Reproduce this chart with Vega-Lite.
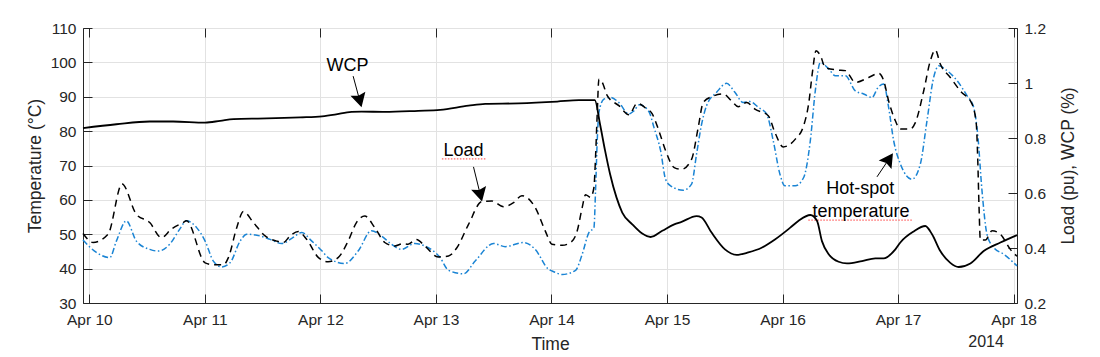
{
  "$schema": "https://vega.github.io/schema/vega-lite/v6.json",
  "width": 934,
  "height": 275,
  "autosize": {"type": "none"},
  "padding": {"left": 83, "top": 28, "right": 83, "bottom": 54},
  "background": "white",
  "config": {
    "font": "Liberation Sans",
    "view": {"stroke": "#262626", "strokeWidth": 1},
    "axis": {
      "domainColor": "#262626",
      "tickColor": "#262626",
      "labelColor": "#262626",
      "titleColor": "#262626",
      "titleFontWeight": "normal",
      "labelFontSize": 15.5,
      "titleFontSize": 17.5,
      "gridColor": "#e2e2e2",
      "gridWidth": 1,
      "tickSize": -9,
      "labelFlush": false,
      "labelOverlap": false,
      "labelBound": false
    }
  },
  "datasets": {
    "hotspot": [
      {"time": "2014-04-09T22:41", "temperature": 48.3},
      {"time": "2014-04-10T01:28", "temperature": 44.7},
      {"time": "2014-04-10T04:14", "temperature": 43.2},
      {"time": "2014-04-10T05:37", "temperature": 48},
      {"time": "2014-04-10T07:42", "temperature": 53.9},
      {"time": "2014-04-10T09:46", "temperature": 48},
      {"time": "2014-04-10T12:33", "temperature": 45.6},
      {"time": "2014-04-10T14:17", "temperature": 45.1},
      {"time": "2014-04-10T16:42", "temperature": 47.1},
      {"time": "2014-04-10T18:47", "temperature": 51.5},
      {"time": "2014-04-10T20:10", "temperature": 53.9},
      {"time": "2014-04-10T22:15", "temperature": 52},
      {"time": "2014-04-11T00:03", "temperature": 48},
      {"time": "2014-04-11T01:46", "temperature": 42.2},
      {"time": "2014-04-11T03:30", "temperature": 40.5},
      {"time": "2014-04-11T05:14", "temperature": 41.7},
      {"time": "2014-04-11T07:19", "temperature": 48},
      {"time": "2014-04-11T08:42", "temperature": 50},
      {"time": "2014-04-11T11:28", "temperature": 49.5},
      {"time": "2014-04-11T13:33", "temperature": 48.5},
      {"time": "2014-04-11T15:58", "temperature": 47.3},
      {"time": "2014-04-11T18:03", "temperature": 48.8},
      {"time": "2014-04-11T20:08", "temperature": 50.5},
      {"time": "2014-04-11T22:13", "temperature": 48},
      {"time": "2014-04-12T00:21", "temperature": 45.1},
      {"time": "2014-04-12T01:36", "temperature": 43.2},
      {"time": "2014-04-12T05:04", "temperature": 41.5},
      {"time": "2014-04-12T07:50", "temperature": 45.1},
      {"time": "2014-04-12T10:36", "temperature": 51},
      {"time": "2014-04-12T12:41", "temperature": 49.5},
      {"time": "2014-04-12T14:46", "temperature": 47.1},
      {"time": "2014-04-12T16:50", "temperature": 45.6},
      {"time": "2014-04-12T19:37", "temperature": 47.3},
      {"time": "2014-04-12T21:41", "temperature": 46.6},
      {"time": "2014-04-13T00:52", "temperature": 43.2},
      {"time": "2014-04-13T02:37", "temperature": 39.5},
      {"time": "2014-04-13T05:44", "temperature": 38.5},
      {"time": "2014-04-13T08:09", "temperature": 42.2},
      {"time": "2014-04-13T11:58", "temperature": 47.3},
      {"time": "2014-04-13T14:23", "temperature": 46.4},
      {"time": "2014-04-13T18:12", "temperature": 47.6},
      {"time": "2014-04-13T20:37", "temperature": 45.6},
      {"time": "2014-04-13T23:23", "temperature": 39.8},
      {"time": "2014-04-14T00:09", "temperature": 39.3},
      {"time": "2014-04-14T02:14", "temperature": 38.3},
      {"time": "2014-04-14T05:00", "temperature": 39.5},
      {"time": "2014-04-14T06:23", "temperature": 44.2},
      {"time": "2014-04-14T07:46", "temperature": 50.5},
      {"time": "2014-04-14T08:49", "temperature": 51.9},
      {"time": "2014-04-14T09:09", "temperature": 62.6},
      {"time": "2014-04-14T09:30", "temperature": 77.2},
      {"time": "2014-04-14T09:51", "temperature": 85.4},
      {"time": "2014-04-14T10:53", "temperature": 89.3},
      {"time": "2014-04-14T12:16", "temperature": 89.8},
      {"time": "2014-04-14T14:00", "temperature": 88.3},
      {"time": "2014-04-14T16:05", "temperature": 85},
      {"time": "2014-04-14T17:07", "temperature": 85.9},
      {"time": "2014-04-14T18:18", "temperature": 87.7},
      {"time": "2014-04-14T20:14", "temperature": 85.7},
      {"time": "2014-04-14T21:17", "temperature": 81.1},
      {"time": "2014-04-14T22:40", "temperature": 74.3},
      {"time": "2014-04-14T23:42", "temperature": 66},
      {"time": "2014-04-15T00:44", "temperature": 64.1},
      {"time": "2014-04-15T03:22", "temperature": 62.8},
      {"time": "2014-04-15T05:06", "temperature": 64.6},
      {"time": "2014-04-15T06:08", "temperature": 73.3},
      {"time": "2014-04-15T07:11", "temperature": 82},
      {"time": "2014-04-15T08:13", "temperature": 87.4},
      {"time": "2014-04-15T10:18", "temperature": 91.3},
      {"time": "2014-04-15T12:22", "temperature": 93.9},
      {"time": "2014-04-15T14:06", "temperature": 91.3},
      {"time": "2014-04-15T15:50", "temperature": 88.3},
      {"time": "2014-04-15T17:13", "temperature": 88.6},
      {"time": "2014-04-15T19:00", "temperature": 86.9},
      {"time": "2014-04-15T20:41", "temperature": 85},
      {"time": "2014-04-15T22:04", "temperature": 77.2},
      {"time": "2014-04-15T23:27", "temperature": 67.5},
      {"time": "2014-04-16T00:29", "temperature": 64.1},
      {"time": "2014-04-16T02:39", "temperature": 64.1},
      {"time": "2014-04-16T04:23", "temperature": 66.5},
      {"time": "2014-04-16T05:46", "temperature": 77.2},
      {"time": "2014-04-16T06:48", "temperature": 91.7},
      {"time": "2014-04-16T07:51", "temperature": 100},
      {"time": "2014-04-16T09:35", "temperature": 98.1},
      {"time": "2014-04-16T10:58", "temperature": 96.1},
      {"time": "2014-04-16T13:02", "temperature": 96.1},
      {"time": "2014-04-16T15:07", "temperature": 91.7},
      {"time": "2014-04-16T16:51", "temperature": 90.8},
      {"time": "2014-04-16T18:35", "temperature": 89.8},
      {"time": "2014-04-16T19:50", "temperature": 92.7},
      {"time": "2014-04-16T21:00", "temperature": 93.7},
      {"time": "2014-04-16T22:02", "temperature": 86.9},
      {"time": "2014-04-16T23:05", "temperature": 77.2},
      {"time": "2014-04-17T00:28", "temperature": 70.5},
      {"time": "2014-04-17T02:53", "temperature": 66},
      {"time": "2014-04-17T04:37", "temperature": 70.4},
      {"time": "2014-04-17T06:00", "temperature": 83},
      {"time": "2014-04-17T07:23", "temperature": 95.6},
      {"time": "2014-04-17T08:26", "temperature": 99},
      {"time": "2014-04-17T10:10", "temperature": 97.6},
      {"time": "2014-04-17T12:14", "temperature": 94.7},
      {"time": "2014-04-17T14:19", "temperature": 90.3},
      {"time": "2014-04-17T15:42", "temperature": 86.9},
      {"time": "2014-04-17T16:32", "temperature": 79.1},
      {"time": "2014-04-17T17:26", "temperature": 62.6},
      {"time": "2014-04-17T18:28", "temperature": 50},
      {"time": "2014-04-17T19:52", "temperature": 46.1},
      {"time": "2014-04-17T21:56", "temperature": 44.2},
      {"time": "2014-04-18T00:42", "temperature": 40.8}
    ],
    "load": [
      {"time": "2014-04-09T22:41", "load": 0.4525},
      {"time": "2014-04-10T00:46", "load": 0.42},
      {"time": "2014-04-10T03:53", "load": 0.45},
      {"time": "2014-04-10T06:48", "load": 0.6325},
      {"time": "2014-04-10T09:46", "load": 0.5225},
      {"time": "2014-04-10T12:33", "load": 0.4925},
      {"time": "2014-04-10T14:58", "load": 0.4375},
      {"time": "2014-04-10T17:03", "load": 0.469},
      {"time": "2014-04-10T19:28", "load": 0.4925},
      {"time": "2014-04-10T20:10", "load": 0.499},
      {"time": "2014-04-11T00:03", "load": 0.346},
      {"time": "2014-04-11T01:46", "load": 0.339},
      {"time": "2014-04-11T03:51", "load": 0.339},
      {"time": "2014-04-11T04:53", "load": 0.365},
      {"time": "2014-04-11T06:37", "load": 0.474},
      {"time": "2014-04-11T08:00", "load": 0.5325},
      {"time": "2014-04-11T10:05", "load": 0.4925},
      {"time": "2014-04-11T12:31", "load": 0.444},
      {"time": "2014-04-11T14:56", "load": 0.425},
      {"time": "2014-04-11T16:19", "load": 0.42},
      {"time": "2014-04-11T17:42", "load": 0.444},
      {"time": "2014-04-11T19:26", "load": 0.46},
      {"time": "2014-04-11T21:10", "load": 0.431},
      {"time": "2014-04-11T23:36", "load": 0.365},
      {"time": "2014-04-12T01:36", "load": 0.35},
      {"time": "2014-04-12T03:41", "load": 0.365},
      {"time": "2014-04-12T05:45", "load": 0.425},
      {"time": "2014-04-12T07:29", "load": 0.4925},
      {"time": "2014-04-12T09:13", "load": 0.516},
      {"time": "2014-04-12T11:18", "load": 0.474},
      {"time": "2014-04-12T13:22", "load": 0.42},
      {"time": "2014-04-12T15:27", "load": 0.4075},
      {"time": "2014-04-12T17:11", "load": 0.416},
      {"time": "2014-04-12T18:13", "load": 0.414},
      {"time": "2014-04-12T19:57", "load": 0.431},
      {"time": "2014-04-12T21:41", "load": 0.4075},
      {"time": "2014-04-13T00:27", "load": 0.3675},
      {"time": "2014-04-13T02:37", "load": 0.371},
      {"time": "2014-04-13T04:21", "load": 0.401},
      {"time": "2014-04-13T06:46", "load": 0.486},
      {"time": "2014-04-13T09:32", "load": 0.569},
      {"time": "2014-04-13T11:37", "load": 0.571},
      {"time": "2014-04-13T14:02", "load": 0.55},
      {"time": "2014-04-13T16:07", "load": 0.565},
      {"time": "2014-04-13T17:51", "load": 0.59},
      {"time": "2014-04-13T20:37", "load": 0.5475},
      {"time": "2014-04-13T22:42", "load": 0.4625},
      {"time": "2014-04-14T00:05", "load": 0.414},
      {"time": "2014-04-14T02:14", "load": 0.41},
      {"time": "2014-04-14T03:58", "load": 0.42},
      {"time": "2014-04-14T05:21", "load": 0.4625},
      {"time": "2014-04-14T06:23", "load": 0.5475},
      {"time": "2014-04-14T07:05", "load": 0.594},
      {"time": "2014-04-14T08:07", "load": 0.584},
      {"time": "2014-04-14T08:49", "load": 0.62},
      {"time": "2014-04-14T09:09", "load": 0.729},
      {"time": "2014-04-14T09:30", "load": 0.8875},
      {"time": "2014-04-14T09:51", "load": 1.014},
      {"time": "2014-04-14T10:32", "load": 1.0025},
      {"time": "2014-04-14T11:35", "load": 0.954},
      {"time": "2014-04-14T14:00", "load": 0.9175},
      {"time": "2014-04-14T16:05", "load": 0.885},
      {"time": "2014-04-14T17:49", "load": 0.926},
      {"time": "2014-04-14T19:33", "load": 0.909},
      {"time": "2014-04-14T20:56", "load": 0.8875},
      {"time": "2014-04-14T22:19", "load": 0.826},
      {"time": "2014-04-14T23:42", "load": 0.754},
      {"time": "2014-04-15T01:30", "load": 0.6925},
      {"time": "2014-04-15T03:01", "load": 0.686},
      {"time": "2014-04-15T05:06", "load": 0.7225},
      {"time": "2014-04-15T06:29", "load": 0.839},
      {"time": "2014-04-15T07:31", "load": 0.929},
      {"time": "2014-04-15T09:15", "load": 0.95},
      {"time": "2014-04-15T11:41", "load": 0.96},
      {"time": "2014-04-15T13:25", "load": 0.935},
      {"time": "2014-04-15T14:48", "load": 0.914},
      {"time": "2014-04-15T16:32", "load": 0.929},
      {"time": "2014-04-15T18:16", "load": 0.905},
      {"time": "2014-04-15T21:02", "load": 0.881},
      {"time": "2014-04-15T22:25", "load": 0.82},
      {"time": "2014-04-16T00:09", "load": 0.7675},
      {"time": "2014-04-16T01:36", "load": 0.7775},
      {"time": "2014-04-16T02:39", "load": 0.796},
      {"time": "2014-04-16T04:23", "load": 0.845},
      {"time": "2014-04-16T05:25", "load": 0.924},
      {"time": "2014-04-16T06:15", "load": 1.045},
      {"time": "2014-04-16T06:57", "load": 1.1175},
      {"time": "2014-04-16T07:51", "load": 1.1},
      {"time": "2014-04-16T08:53", "load": 1.056},
      {"time": "2014-04-16T11:18", "load": 1.0475},
      {"time": "2014-04-16T13:02", "load": 1.045},
      {"time": "2014-04-16T15:07", "load": 1.0025},
      {"time": "2014-04-16T17:53", "load": 1.02},
      {"time": "2014-04-16T19:58", "load": 1.035},
      {"time": "2014-04-16T21:00", "load": 1.009},
      {"time": "2014-04-16T22:02", "load": 0.935},
      {"time": "2014-04-16T23:26", "load": 0.8625},
      {"time": "2014-04-17T00:28", "load": 0.8325},
      {"time": "2014-04-17T02:32", "load": 0.8325},
      {"time": "2014-04-17T03:35", "load": 0.856},
      {"time": "2014-04-17T05:19", "load": 0.971},
      {"time": "2014-04-17T06:42", "load": 1.081},
      {"time": "2014-04-17T07:44", "load": 1.12},
      {"time": "2014-04-17T08:46", "load": 1.069},
      {"time": "2014-04-17T10:51", "load": 1.02},
      {"time": "2014-04-17T12:56", "load": 0.971},
      {"time": "2014-04-17T15:21", "load": 0.924},
      {"time": "2014-04-17T16:15", "load": 0.85},
      {"time": "2014-04-17T16:32", "load": 0.729},
      {"time": "2014-04-17T16:49", "load": 0.5475},
      {"time": "2014-04-17T17:05", "load": 0.429},
      {"time": "2014-04-17T18:07", "load": 0.429},
      {"time": "2014-04-17T19:31", "load": 0.4625},
      {"time": "2014-04-17T21:15", "load": 0.45},
      {"time": "2014-04-17T23:19", "load": 0.395},
      {"time": "2014-04-18T00:42", "load": 0.37}
    ],
    "wcp": [
      {"time": "2014-04-09T22:41", "wcp": 0.836},
      {"time": "2014-04-10T05:37", "wcp": 0.85},
      {"time": "2014-04-10T12:33", "wcp": 0.86},
      {"time": "2014-04-10T17:24", "wcp": 0.86},
      {"time": "2014-04-11T00:03", "wcp": 0.856},
      {"time": "2014-04-11T03:10", "wcp": 0.8625},
      {"time": "2014-04-11T05:56", "wcp": 0.869},
      {"time": "2014-04-11T12:51", "wcp": 0.871},
      {"time": "2014-04-11T19:47", "wcp": 0.875},
      {"time": "2014-04-12T00:21", "wcp": 0.879},
      {"time": "2014-04-12T02:59", "wcp": 0.885},
      {"time": "2014-04-12T06:27", "wcp": 0.895},
      {"time": "2014-04-12T08:32", "wcp": 0.896},
      {"time": "2014-04-12T13:22", "wcp": 0.895},
      {"time": "2014-04-12T20:18", "wcp": 0.899},
      {"time": "2014-04-13T00:52", "wcp": 0.9025},
      {"time": "2014-04-13T06:46", "wcp": 0.9175},
      {"time": "2014-04-13T10:14", "wcp": 0.924},
      {"time": "2014-04-13T17:10", "wcp": 0.926},
      {"time": "2014-04-14T01:11", "wcp": 0.9325},
      {"time": "2014-04-14T05:41", "wcp": 0.9375},
      {"time": "2014-04-14T09:00", "wcp": 0.9375},
      {"time": "2014-04-14T10:05", "wcp": 0.85},
      {"time": "2014-04-14T11:08", "wcp": 0.754},
      {"time": "2014-04-14T12:10", "wcp": 0.669},
      {"time": "2014-04-14T13:30", "wcp": 0.584},
      {"time": "2014-04-14T14:42", "wcp": 0.529},
      {"time": "2014-04-14T16:47", "wcp": 0.486},
      {"time": "2014-04-14T18:51", "wcp": 0.4525},
      {"time": "2014-04-14T20:35", "wcp": 0.44},
      {"time": "2014-04-14T23:01", "wcp": 0.4625},
      {"time": "2014-04-15T01:30", "wcp": 0.486},
      {"time": "2014-04-15T03:01", "wcp": 0.495},
      {"time": "2014-04-15T06:08", "wcp": 0.516},
      {"time": "2014-04-15T07:11", "wcp": 0.511},
      {"time": "2014-04-15T09:15", "wcp": 0.456},
      {"time": "2014-04-15T12:02", "wcp": 0.395},
      {"time": "2014-04-15T14:27", "wcp": 0.375},
      {"time": "2014-04-15T16:53", "wcp": 0.384},
      {"time": "2014-04-15T19:39", "wcp": 0.401},
      {"time": "2014-04-15T22:25", "wcp": 0.431},
      {"time": "2014-04-16T01:36", "wcp": 0.474},
      {"time": "2014-04-16T03:20", "wcp": 0.499},
      {"time": "2014-04-16T05:46", "wcp": 0.52},
      {"time": "2014-04-16T07:09", "wcp": 0.499},
      {"time": "2014-04-16T08:11", "wcp": 0.425},
      {"time": "2014-04-16T09:35", "wcp": 0.3775},
      {"time": "2014-04-16T11:39", "wcp": 0.35},
      {"time": "2014-04-16T13:23", "wcp": 0.344},
      {"time": "2014-04-16T16:30", "wcp": 0.3525},
      {"time": "2014-04-16T19:16", "wcp": 0.3625},
      {"time": "2014-04-16T21:00", "wcp": 0.3625},
      {"time": "2014-04-16T23:26", "wcp": 0.395},
      {"time": "2014-04-17T00:28", "wcp": 0.42},
      {"time": "2014-04-17T03:14", "wcp": 0.46},
      {"time": "2014-04-17T05:39", "wcp": 0.48},
      {"time": "2014-04-17T07:03", "wcp": 0.45},
      {"time": "2014-04-17T08:46", "wcp": 0.389},
      {"time": "2014-04-17T10:51", "wcp": 0.346},
      {"time": "2014-04-17T12:35", "wcp": 0.331},
      {"time": "2014-04-17T15:01", "wcp": 0.344},
      {"time": "2014-04-17T17:47", "wcp": 0.389},
      {"time": "2014-04-17T21:15", "wcp": 0.42},
      {"time": "2014-04-18T00:42", "wcp": 0.447}
    ],
    "notes": [
      {"time": "2014-04-12T05:39", "temperature": 97.6, "text": "WCP"},
      {"time": "2014-04-13T05:43", "temperature": 72.8, "text": "Load"},
      {"time": "2014-04-16T16:09", "temperature": 61.7, "text": "Hot-spot"},
      {"time": "2014-04-16T16:19", "temperature": 55.1, "text": "temperature"}
    ],
    "arrows": [
      {"arrow": "WCP", "time": "2014-04-12T06:48", "temperature": 96.0, "time2": "2014-04-12T08:10", "temperature2": 88.9},
      {"arrow": "Load", "time": "2014-04-13T07:48", "temperature": 69.6, "time2": "2014-04-13T09:13", "temperature2": 61.5},
      {"arrow": "Hot-spot", "time": "2014-04-16T19:37", "temperature": 66.7, "time2": "2014-04-16T22:07", "temperature2": 71.9}
    ],
    "heads": [
      {"arrow": "WCP", "time": "2014-04-12T08:10", "temperature": 88.9},
      {"arrow": "Load", "time": "2014-04-13T09:13", "temperature": 61.5},
      {"arrow": "Hot-spot", "time": "2014-04-16T22:07", "temperature": 71.9}
    ],
    "underlines": [
      {"time": "2014-04-13T01:14", "time2": "2014-04-13T10:35", "temperature": 71.9},
      {"time": "2014-04-16T05:21", "time2": "2014-04-17T02:53", "temperature": 54.1}
    ],
    "year": [
      {"time": "2014-04-17T18:17", "temperature": 17.2, "text": "2014"}
    ]
  },
  "layer": [
    {
      "layer": [
        {
          "data": {"name": "hotspot"},
          "mark": {"type": "line", "color": "#1a84d4", "strokeWidth": 1.5, "strokeDash": [6, 2.5, 1.5, 2.5], "interpolate": "monotone"},
          "encoding": {
            "x": {
              "field": "time", "type": "temporal",
              "scale": {"domain": [
                {"year": 2014, "month": "apr", "date": 9, "hours": 22, "minutes": 41},
                {"year": 2014, "month": "apr", "date": 18, "hours": 0, "minutes": 42}
              ]},
              "axis": {
                "orient": "bottom",
                "values": [
                  {"year": 2014, "month": "apr", "date": 10},
                  {"year": 2014, "month": "apr", "date": 11},
                  {"year": 2014, "month": "apr", "date": 12},
                  {"year": 2014, "month": "apr", "date": 13},
                  {"year": 2014, "month": "apr", "date": 14},
                  {"year": 2014, "month": "apr", "date": 15},
                  {"year": 2014, "month": "apr", "date": 16},
                  {"year": 2014, "month": "apr", "date": 17},
                  {"year": 2014, "month": "apr", "date": 18}
                ],
                "format": "%b %d",
                "grid": true,
                "labelOverlap": false,
                "labelFlush": false,
                "labelPadding": 18,
                "title": "Time",
                "titleX": 467,
                "titleY": 46,
                "titleAlign": "center",
                "titleBaseline": "alphabetic"
              }
            },
            "y": {
              "field": "temperature", "type": "quantitative",
              "scale": {"domain": [30, 110], "nice": false, "zero": false},
              "axis": {
                "orient": "left",
                "values": [30, 40, 50, 60, 70, 80, 90, 100, 110],
                "tickCount": 9,
                "grid": true,
                "labelOverlap": false,
                "labelPadding": 16,
                "title": "Temperature (°C)",
                "titleAngle": 270,
                "titleX": -48,
                "titleY": 137.5,
                "titleAlign": "center",
                "titleBaseline": "middle"
              }
            }
          }
        },
        {
          "data": {"name": "underlines"},
          "mark": {"type": "rule", "color": "#ff4040", "strokeWidth": 1.3, "strokeDash": [1.5, 1.5], "opacity": 0.8},
          "encoding": {
            "x": {"field": "time", "type": "temporal"},
            "x2": {"field": "time2"},
            "y": {"field": "temperature", "type": "quantitative"}
          }
        },
        {
          "data": {"name": "notes"},
          "mark": {"type": "text", "fontSize": 18, "align": "center", "baseline": "alphabetic", "color": "#000000"},
          "encoding": {
            "x": {"field": "time", "type": "temporal"},
            "y": {"field": "temperature", "type": "quantitative"},
            "text": {"field": "text"}
          }
        },
        {
          "data": {"name": "year"},
          "mark": {"type": "text", "fontSize": 16, "align": "center", "baseline": "alphabetic", "color": "#262626"},
          "encoding": {
            "x": {"field": "time", "type": "temporal"},
            "y": {"field": "temperature", "type": "quantitative"},
            "text": {"field": "text"}
          }
        },
        {
          "data": {"name": "arrows"},
          "mark": {"type": "rule", "color": "#000000", "strokeWidth": 1},
          "encoding": {
            "x": {"field": "time", "type": "temporal"},
            "x2": {"field": "time2"},
            "y": {"field": "temperature", "type": "quantitative"},
            "y2": {"field": "temperature2"}
          }
        },
        {
          "data": {"name": "heads"},
          "transform": [{"filter": "datum.arrow == 'WCP'"}],
          "mark": {"type": "point", "shape": "M0,-1L1.1,1L0,0.7L-1.1,1Z", "filled": true, "color": "#000000", "opacity": 1, "size": 196, "angle": 165},
          "encoding": {
            "x": {"field": "time", "type": "temporal"},
            "y": {"field": "temperature", "type": "quantitative"}
          }
        },
        {
          "data": {"name": "heads"},
          "transform": [{"filter": "datum.arrow == 'Load'"}],
          "mark": {"type": "point", "shape": "M0,-1L1.1,1L0,0.7L-1.1,1Z", "filled": true, "color": "#000000", "opacity": 1, "size": 196, "angle": 166},
          "encoding": {
            "x": {"field": "time", "type": "temporal"},
            "y": {"field": "temperature", "type": "quantitative"}
          }
        },
        {
          "data": {"name": "heads"},
          "transform": [{"filter": "datum.arrow == 'Hot-spot'"}],
          "mark": {"type": "point", "shape": "M0,-1L1.1,1L0,0.7L-1.1,1Z", "filled": true, "color": "#000000", "opacity": 1, "size": 196, "angle": 34},
          "encoding": {
            "x": {"field": "time", "type": "temporal"},
            "y": {"field": "temperature", "type": "quantitative"}
          }
        }
      ]
    },
    {
      "layer": [
        {
          "data": {"name": "load"},
          "mark": {"type": "line", "color": "#000000", "strokeWidth": 1.5, "strokeDash": [7, 5], "interpolate": "monotone"},
          "encoding": {
            "x": {
              "field": "time", "type": "temporal",
              "axis": {
                "orient": "top",
                "values": [
                  {"year": 2014, "month": "apr", "date": 10},
                  {"year": 2014, "month": "apr", "date": 11},
                  {"year": 2014, "month": "apr", "date": 12},
                  {"year": 2014, "month": "apr", "date": 13},
                  {"year": 2014, "month": "apr", "date": 14},
                  {"year": 2014, "month": "apr", "date": 15},
                  {"year": 2014, "month": "apr", "date": 16},
                  {"year": 2014, "month": "apr", "date": 17},
                  {"year": 2014, "month": "apr", "date": 18}
                ],
                "labels": false,
                "grid": false,
                "domain": false,
                "title": null
              }
            },
            "y": {
              "field": "load", "type": "quantitative",
              "scale": {"domain": [0.2, 1.2], "nice": false, "zero": false},
              "axis": {
                "orient": "right",
                "values": [0.2, 0.4, 0.6, 0.8, 1, 1.2],
                "format": ".1~f",
                "grid": false,
                "labelOverlap": false,
                "labelPadding": 16,
                "title": "Load (pu), WCP (%)",
                "titleAngle": 270,
                "titleX": 51,
                "titleY": 137.5,
                "titleAlign": "center",
                "titleBaseline": "middle"
              }
            }
          }
        },
        {
          "data": {"name": "wcp"},
          "mark": {"type": "line", "color": "#000000", "strokeWidth": 1.8, "interpolate": "monotone"},
          "encoding": {
            "x": {"field": "time", "type": "temporal"},
            "y": {"field": "wcp", "type": "quantitative"}
          }
        }
      ]
    }
  ],
  "resolve": {"scale": {"y": "independent"}}
}
